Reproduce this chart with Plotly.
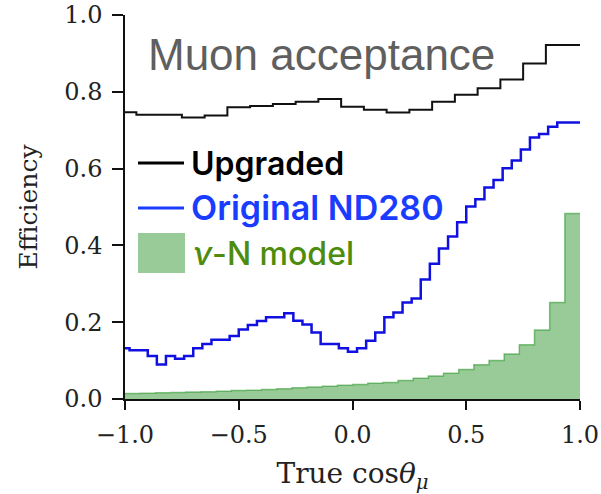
import numpy as np
import plotly.graph_objects as go

# ---- data ----
# "Upgraded" efficiency (step, values at bin centres)
upg_x = [-1.0, -0.9, -0.8, -0.7, -0.6, -0.5, -0.4, -0.3, -0.2, -0.1, 0.0,
         0.1, 0.2, 0.3, 0.4, 0.5, 0.6, 0.7, 0.8, 0.9, 1.0]
upg_y = [0.747, 0.740, 0.740, 0.733, 0.738, 0.760, 0.763, 0.768, 0.774, 0.781, 0.761,
         0.753, 0.746, 0.753, 0.774, 0.792, 0.809, 0.832, 0.874, 0.922, 0.922]

# "Original ND280" efficiency (step, values at bin centres, width 0.04)
orig_x = [round(v, 2) for v in np.linspace(-1.0, 1.0, 51)]
orig_y = [0.132, 0.127, 0.127, 0.112, 0.090, 0.112, 0.105, 0.112, 0.132, 0.143,
          0.154, 0.154, 0.164, 0.181, 0.193, 0.203, 0.213, 0.213, 0.223, 0.204,
          0.194, 0.173, 0.143, 0.143, 0.132, 0.123, 0.132, 0.152, 0.173, 0.213,
          0.225, 0.251, 0.262, 0.311, 0.352, 0.392, 0.423, 0.460, 0.501, 0.520,
          0.551, 0.570, 0.601, 0.621, 0.650, 0.681, 0.690, 0.709, 0.720, 0.720,
          0.720]

# nu-N model distribution (histogram, 30 bins on [-1, 1])
model_edges = [round(v, 5) for v in np.linspace(-1.0, 1.0, 31)]
model_y = [0.014, 0.015, 0.016, 0.017, 0.018, 0.019, 0.020, 0.022, 0.023, 0.025,
           0.027, 0.029, 0.031, 0.033, 0.036, 0.038, 0.041, 0.043, 0.048, 0.054,
           0.060, 0.067, 0.077, 0.089, 0.100, 0.117, 0.141, 0.180, 0.251, 0.483]

x_ticks = [-1.0, -0.5, 0.0, 0.5, 1.0]
x_ticklabels = ["\u22121.0", "\u22120.5", "0.0", "0.5", "1.0"]
y_ticks = [0.0, 0.2, 0.4, 0.6, 0.8, 1.0]
y_ticklabels = ["0.0", "0.2", "0.4", "0.6", "0.8", "1.0"]

# ---- layout geometry helpers (pixel -> paper) ----
L, R, T, B = 125, 21, 15, 95
W, H = 601, 494
PW, PH = W - L - R, H - T - B


def px(xp):
    return (xp - L) / PW


def py(yp):
    return (T + PH - yp) / PH


fig = go.Figure()

fig.add_trace(go.Scatter(
    x=model_edges, y=model_y + [model_y[-1]],
    mode="lines", line=dict(shape="hv", color="rgba(0,128,0,0.45)", width=1.5),
    fill="tozeroy", fillcolor="#98cb98", showlegend=False, hoverinfo="skip"))

fig.add_trace(go.Scatter(
    x=orig_x, y=orig_y, mode="lines",
    line=dict(shape="hvh", color="#1010e0", width=2.5), showlegend=False))

fig.add_trace(go.Scatter(
    x=upg_x, y=upg_y, mode="lines",
    line=dict(shape="hvh", color="#111111", width=2), showlegend=False))

tickfont = dict(family="DejaVu Serif", size=24, color="#222222")

fig.update_layout(
    width=W, height=H,
    margin=dict(l=L, r=R, t=T, b=B, pad=0),
    paper_bgcolor="white", plot_bgcolor="white",
    xaxis=dict(range=[-1, 1], tickvals=x_ticks, ticktext=x_ticklabels,
               automargin=False,
               showgrid=False, zeroline=False, showline=True, linecolor="#111111",
               linewidth=1.5, ticks="outside", ticklen=9, tickwidth=1.5,
               tickcolor="#111111", tickfont=tickfont, ticklabelstandoff=4,
               title=dict(text="True cos<i>\u03b8</i><sub><i>\u03bc</i></sub>",
                          font=dict(family="DejaVu Serif", size=28, color="#222222"),
                          standoff=18)),
    yaxis=dict(range=[0, 1], tickvals=y_ticks, ticktext=y_ticklabels,
               automargin=False,
               showgrid=False, zeroline=False, showline=True, linecolor="#111111",
               linewidth=1.5, ticks="outside", ticklen=11, tickwidth=1.5,
               tickcolor="#111111", tickfont=tickfont, ticklabelstandoff=5,
               title=dict(text="Efficiency",
                          font=dict(family="DejaVu Serif", size=25, color="#222222"),
                          standoff=20)),
)

# Title text inside the axes
fig.add_annotation(text="Muon acceptance", xref="paper", yref="paper",
                   x=px(146), y=py(54), xanchor="left", yanchor="middle",
                   showarrow=False,
                   font=dict(family="Liberation Sans", size=44, color="#5f5f5f"))

# Manual legend
fig.add_shape(type="line", xref="paper", yref="paper",
              x0=px(138), x1=px(184), y0=py(163), y1=py(163),
              line=dict(color="black", width=3))
fig.add_shape(type="line", xref="paper", yref="paper",
              x0=px(138), x1=px(184), y0=py(208), y1=py(208),
              line=dict(color="#1a3cff", width=3))
fig.add_shape(type="rect", xref="paper", yref="paper",
              x0=px(138), x1=px(185), y0=py(273), y1=py(233),
              fillcolor="#98cb98", line=dict(width=0))

fig.add_annotation(text="Upgraded", xref="paper", yref="paper",
                   x=px(189), y=py(163), xanchor="left", yanchor="middle",
                   showarrow=False,
                   font=dict(family="Inter", size=32, weight=600, color="black"))
fig.add_annotation(text="Original ND280", xref="paper", yref="paper",
                   x=px(189), y=py(207), xanchor="left", yanchor="middle",
                   showarrow=False,
                   font=dict(family="Inter", size=34, weight=600, color="#1a3cff"))
fig.add_annotation(text="<i>\u03bd</i>-N model", xref="paper", yref="paper",
                   x=px(191), y=py(253), xanchor="left", yanchor="middle",
                   showarrow=False,
                   font=dict(family="Inter", size=32, weight=500, color="#4d8c0c"))

fig.write_html("out.html")
